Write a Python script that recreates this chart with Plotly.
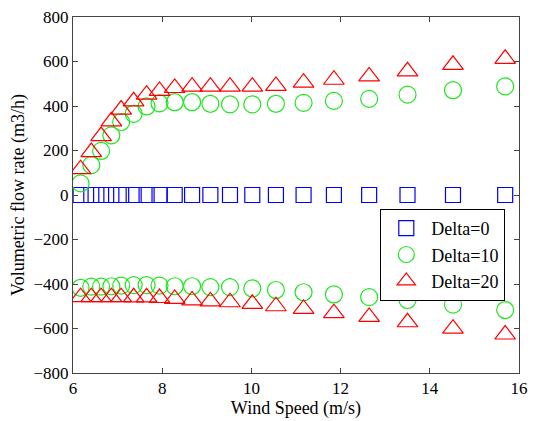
import plotly.graph_objects as go

wind_speed = [6.17, 6.41, 6.63, 6.86, 7.08, 7.36, 7.65, 7.94, 8.28, 8.67,
              9.08, 9.52, 10.02, 10.55, 11.17, 11.85, 12.64, 13.50, 14.52, 15.69]

delta0 = [0] * 20

delta10_upper = [52, 134, 198, 268, 328, 365, 398, 412, 417, 417,
                 410, 407, 407, 410, 414, 423, 432, 451, 471, 488]
delta10_lower = [-417, -412, -412, -410, -407, -405, -405, -407, -410, -410,
                 -414, -414, -420, -427, -437, -447, -459, -472, -493, -517]

delta20_upper = [116, 193, 265, 331, 384, 421, 451, 468, 481, 487,
                 487, 487, 487, 490, 505, 518, 533, 556, 585, 612]
delta20_lower = [-459, -459, -459, -459, -459, -460, -460, -463, -467, -474,
                 -478, -482, -489, -500, -512, -531, -548, -572, -601, -627]

x_ticks = [6, 8, 10, 12, 14, 16]
y_ticks = [-800, -600, -400, -200, 0, 200, 400, 600, 800]

FONT = "Liberation Serif"

fig = go.Figure()
fig.add_trace(go.Scatter(
    x=wind_speed, y=delta0, mode="markers", name="Delta=0",
    marker=dict(symbol="square-open", size=15, color="rgb(0,0,255)",
                line=dict(width=1.2, color="rgb(0,0,255)"))))
fig.add_trace(go.Scatter(
    x=wind_speed + wind_speed, y=delta10_upper + delta10_lower,
    mode="markers", name="Delta=10",
    marker=dict(symbol="circle-open", size=17, color="rgb(30,230,30)",
                line=dict(width=1.2, color="rgb(30,230,30)"))))
fig.add_trace(go.Scatter(
    x=wind_speed + wind_speed, y=delta20_upper + delta20_lower,
    mode="markers", name="Delta=20",
    marker=dict(symbol="triangle-up-open", size=18, color="rgb(255,0,0)",
                line=dict(width=1.2, color="rgb(255,0,0)"))))

axis_common = dict(
    showline=True, linecolor="#444", linewidth=1, mirror="ticks",
    ticks="inside", ticklen=5, tickcolor="#444", showgrid=False,
    zeroline=False, tickfont=dict(family=FONT, size=17, color="black"),
)

fig.update_layout(
    width=536, height=421,
    margin=dict(l=73, r=8, t=16, b=47),
    paper_bgcolor="white", plot_bgcolor="white",
    font=dict(family=FONT, size=17, color="black"),
    xaxis=dict(range=[6, 16], tickvals=x_ticks,
               title=dict(text="Wind Speed (m/s)", font=dict(family=FONT, size=18), standoff=2),
               **axis_common),
    yaxis=dict(range=[-800, 800], tickvals=y_ticks,
               title=dict(text="Volumetric flow rate (m3/h)", font=dict(family=FONT, size=18), standoff=4),
               **axis_common),
    legend=dict(x=0.689, y=0.461, xanchor="left", yanchor="top",
                bgcolor="white", bordercolor="black", borderwidth=1,
                font=dict(family=FONT, size=18), itemwidth=40),
    showlegend=True,
)

fig.write_html("out.html")
